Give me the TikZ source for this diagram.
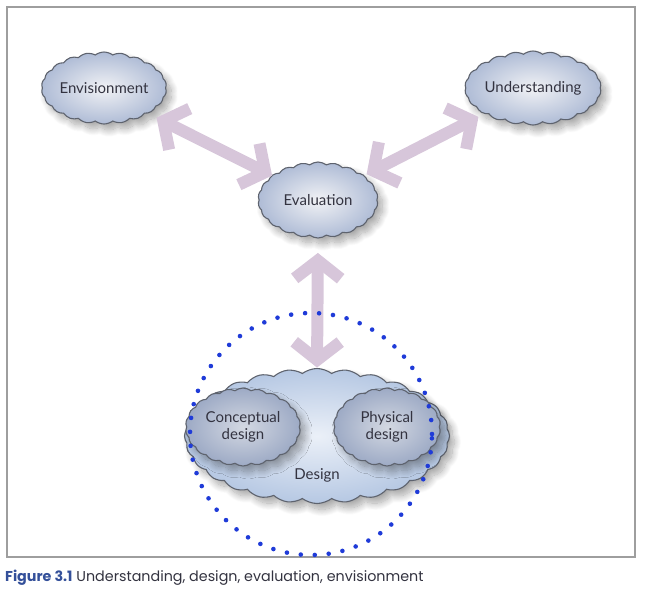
\documentclass[tikz,border=0pt]{standalone}
\usepackage{fontspec}
\setmainfont{Lato}
\newfontfamily\capfont{Poppins}
\usetikzlibrary{shapes.symbols,arrows.meta,shadows.blur}
\pgfdeclarearrow{
  name = Chev,
  setup code = {
    \pgfarrowssettipend{0pt}
    \pgfarrowssetbackend{-\pgfarrowlength}
    \pgfarrowssetlineend{-2pt}
    \pgfarrowssavethe\pgfarrowlength
    \pgfarrowssavethe\pgfarrowwidth
  },
  drawing code = {
    \pgfsetdash{}{0pt}\pgfsetmiterjoin\pgfsetbuttcap
    \pgfpathmoveto{\pgfqpoint{-\pgfarrowlength}{.5\pgfarrowwidth}}
    \pgfpathlineto{\pgfpointorigin}
    \pgfpathlineto{\pgfqpoint{-\pgfarrowlength}{-.5\pgfarrowwidth}}
    \pgfusepathqstroke
  },
  parameters = {\the\pgfarrowlength,\the\pgfarrowwidth},
  defaults = {length=18pt, width=46pt}
}
\definecolor{arrowc}{HTML}{D7C6DA}
\definecolor{edgec}{HTML}{5E636E}
\definecolor{cloudout}{HTML}{AFBCD6}
\definecolor{cloudin}{HTML}{F1F2F5}
\definecolor{innerout}{HTML}{9DAAC5}
\definecolor{innerin}{HTML}{D3D8E2}
\definecolor{bigout}{HTML}{B6C8E3}
\definecolor{bigin}{HTML}{EBF0F8}
\definecolor{dotc}{HTML}{1F3BD8}
\definecolor{capblue}{HTML}{34509A}
\definecolor{txt}{HTML}{333340}
\tikzset{
  cloudbase/.style={cloud, cloud puffs=22, cloud puff arc=75, cloud ignores aspect,
    draw=edgec, line width=1.1pt, inner sep=0pt, align=center, text=txt,
    font=\fontsize{15}{17}\selectfont,
    blur shadow={shadow xshift=5pt, shadow yshift=-6pt, shadow blur radius=7pt, shadow blur steps=16, shadow opacity=35}},
  topcloud/.style={cloudbase, inner color=cloudin, outer color=cloudout},
  innercloud/.style={cloudbase, inner color=innerin, outer color=innerout},
  bigcloud/.style={cloudbase, cloud puffs=28, cloud puff arc=75, inner color=bigin, outer color=bigout},
  bigarrow/.style={draw=arrowc, line width=12pt, {Chev}-{Chev}},
  frame/.style={draw=black!38, line width=2pt},
  dotring/.style={draw=dotc, line width=4.6pt, line cap=round, dash pattern=on 0pt off 14pt}
}
\begin{document}
\begin{tikzpicture}[x=1pt,y=-1pt]
\useasboundingbox (0,0) rectangle (647,590);
\node[frame, rectangle, minimum width=628pt, minimum height=550pt, anchor=north west] (frm) at (6,6) {};
% clouds
\node[topcloud, minimum width=124pt, minimum height=72pt] (env) at (104,88) {Envisionment};
\node[topcloud, minimum width=122pt, minimum height=74pt] (und) at (533,88) {Understanding};
\node[topcloud, minimum width=120pt, minimum height=76pt] (eval) at (318,200) {Evaluation};
\node[bigcloud, minimum width=265pt, minimum height=135pt] (design) at (317,436) {};
\node[innercloud, minimum width=115pt, minimum height=78pt] (concept) at (243,427) {Conceptual\\design};
\node[innercloud, minimum width=107pt, minimum height=78pt] (phys) at (387,427) {Physical\\design};
\node[text=txt, font=\fontsize{15}{17}\selectfont] (dlabel) at (317,475) {Design};
% arrows
\draw[bigarrow, shorten <=17pt, shorten >=7pt] (env.-30) -- (eval.152);
\draw[bigarrow, shorten <=10pt, shorten >=14pt] (eval.28) -- (und.208);
\draw[bigarrow, shorten <=22pt, shorten >=8pt] (eval.south) -- (design.north);
% dotted ring
\node[dotring, circle, minimum size=242pt, inner sep=0pt] (ring) at (311,434) {};
% caption
\node[anchor=base west, inner sep=0pt, font=\capfont\fontsize{14.3}{16}\selectfont, text=txt] (cap) at (5,581)
  {{\color{capblue}\bfseries Figure 3.1} Understanding, design, evaluation, envisionment};
\end{tikzpicture}
\end{document}
